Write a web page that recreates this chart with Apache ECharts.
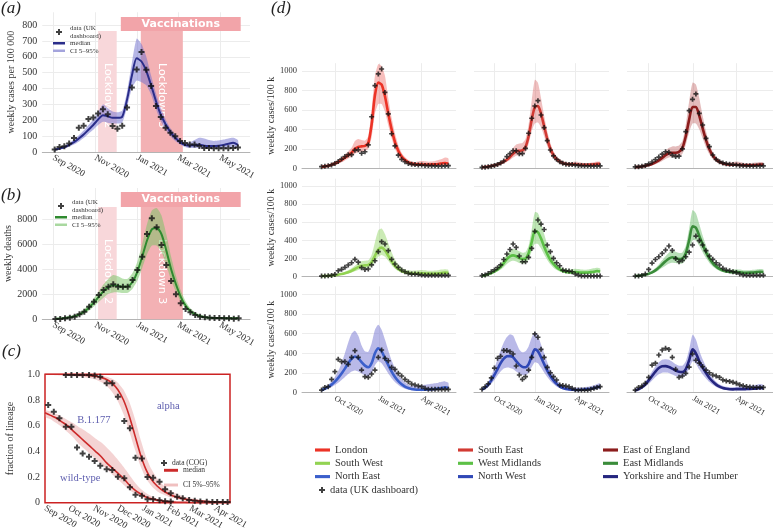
<!DOCTYPE html>
<html><head><meta charset="utf-8">
<script src="https://cdn.jsdelivr.net/npm/echarts@6/dist/echarts.min.js"></script>
<style>html,body{margin:0;padding:0;background:#fff}#c{width:773px;height:531px}</style>
</head><body><div id="c"></div><script>
const SERIF = 'Liberation Serif';
const PLUS = 'path://M-1,-3H1V-1H3V1H1V3H-1V1H-3V-1H-1Z';
const LINE = 'path://M0,0H12V2.5H0Z';

// ---------- x positions: days since 1 Sep 2020 ----------
const weekDays = [2,9,16,23,30,37,44,51,58,65,72,79,86,93,100,107,114,121,128,135,142,149,156,163,170,177,184,191,198,205,212,219,226,233,240,247,254,261,268];
const deathDays = [3,10,17,24,31,38,45,52,59,66,73,80,87,94,101,108,115,122,129,136,143,150,157,164,171,178,185,192,199,206,213,220,227,234,241,248,255,262,269];
const tickDaysAB = [0,61,122,181,242];
const tickLabelsAB = ['Sep 2020','Nov 2020','Jan 2021','Mar 2021','May 2021'];
const tickDaysC = [0,30,61,91,122,153,181,212];
const tickLabelsC = ['Sep 2020','Oct 2020','Nov 2020','Dec 2020','Jan 2021','Feb 2021','Mar 2021','Apr 2021'];
const tickDaysD = [30,122,212];
const tickLabelsD = ['Oct 2020','Jan 2021','Apr 2021'];
const lockdown2 = [65, 92];
const lockdown3 = [127, 188];
const vaccinations = [98, 272];

// ---------- (a) weekly cases per 100 000 ----------
const aData = [15,32,36,53,88,152,166,208,217,242,270,238,164,147,166,280,406,520,630,518,415,290,221,152,122,99,69,57,48,48,38,25,25,23,23,23,23,25,29];
const aMed  = [15,22,30,45,62,85,110,140,170,205,232,225,215,215,222,330,480,590,570,510,420,320,235,175,125,90,62,45,40,42,45,40,38,38,40,45,52,58,45];
const aHi   = [20,30,40,55,78,105,135,170,205,250,300,275,255,250,260,380,560,715,680,600,480,370,275,205,150,110,78,60,60,75,90,85,75,70,72,78,85,90,75];
const aLo   = [10,15,22,35,48,65,88,115,140,170,190,185,180,180,185,280,400,450,440,420,360,270,195,140,100,70,48,32,25,25,25,22,22,22,22,25,28,30,25];

// ---------- (b) weekly deaths ----------
const bData = [30,30,80,130,210,400,610,1010,1410,1950,2350,2610,2800,2610,2610,2610,3150,3950,5010,6830,8080,7360,5950,4350,3070,2000,1280,830,560,350,210,160,130,110,110,80,80,50,80];
const bMed  = [40,60,100,160,250,400,620,950,1350,1800,2250,2600,2720,2680,2600,2620,3000,3800,5000,6300,7200,7300,6800,5500,4000,2800,1800,1100,650,400,250,170,130,110,100,95,90,90,90];
const bHi   = [60,90,140,220,340,540,820,1220,1700,2250,2800,3250,3550,3450,3250,3250,3700,4600,6000,7600,8700,8900,8300,6800,5000,3500,2300,1450,880,560,360,250,190,160,150,145,140,140,140];
const bLo   = [25,40,70,110,170,280,440,700,1020,1400,1750,2050,2150,2150,2100,2120,2450,3100,4100,5200,5900,5900,5400,4350,3150,2200,1400,850,480,290,170,110,80,65,60,55,52,50,50];

// ---------- (c) fraction of lineage ----------
const cCurveDays = [0,7,14,21,28,35,42,49,56,63,70,77,84,91,98,105,112,119,126,133,140,147,154,161,168,175,182,189,196,203,210,217,224,231];
const alphaMed = [1,1,1,1,0.998,0.997,0.995,0.993,0.99,0.985,0.975,0.96,0.93,0.88,0.8,0.68,0.53,0.38,0.26,0.18,0.13,0.095,0.07,0.05,0.037,0.028,0.021,0.016,0.012,0.009,0.007,0.005,0.004,0.003];
const alphaHi  = [1,1,1,1,1,1,0.999,0.998,0.997,0.995,0.99,0.98,0.965,0.935,0.88,0.79,0.66,0.5,0.36,0.26,0.19,0.14,0.105,0.08,0.06,0.045,0.035,0.027,0.02,0.016,0.012,0.009,0.007,0.006];
const alphaLo  = [0.995,0.995,0.993,0.99,0.988,0.985,0.98,0.975,0.97,0.96,0.94,0.91,0.86,0.79,0.69,0.56,0.42,0.29,0.19,0.13,0.09,0.065,0.047,0.034,0.024,0.017,0.012,0.009,0.006,0.004,0.003,0.002,0.001,0.001];
const wildMed  = [0.70,0.68,0.66,0.63,0.60,0.56,0.52,0.48,0.44,0.40,0.36,0.31,0.27,0.23,0.19,0.14,0.10,0.07,0.045,0.03,0.02,0.013,0.009,0.006,0.004,0.003,0.002,0.002,0.001,0.001,0.001,0.001,0.001,0.001];
const wildHi   = [0.72,0.71,0.69,0.67,0.645,0.62,0.59,0.565,0.535,0.50,0.47,0.43,0.385,0.335,0.28,0.22,0.16,0.11,0.075,0.05,0.03,0.02,0.014,0.01,0.007,0.005,0.004,0.003,0.003,0.002,0.002,0.002,0.002,0.002];
const wildLo   = [0.67,0.65,0.62,0.59,0.55,0.51,0.46,0.42,0.38,0.34,0.30,0.26,0.22,0.18,0.14,0.10,0.07,0.045,0.03,0.02,0.012,0.008,0.005,0.003,0.002,0.001,0,0,0,0,0,0,0,0];
const wildDays  = [4,11,18,26,33,40,47,55,62,69,77,84,91,99,106,113,121,128,135,143,150,157];
const wildData  = [0.761,0.709,0.657,0.592,0.592,0.43,0.384,0.358,0.325,0.288,0.26,0.255,0.203,0.19,0.12,0.062,0.055,0.026,0.026,0.02,0.012,0.01];
const alphaDays = [26,33,40,47,55,62,69,77,84,91,99,106,113,121,128,135,143,150,157,165,172,180,187,194,202,209,215,222,228];
const alphaData = [0.995,0.995,0.995,0.995,0.995,0.99,0.98,0.93,0.93,0.826,0.636,0.58,0.35,0.345,0.20,0.195,0.164,0.104,0.073,0.047,0.034,0.021,0.016,0.01,0.008,0.005,0.005,0.005,0.005];
const lineageLabels = [{name:'alpha', day:154, frac:0.753},{name:'B.1.177', day:61, frac:0.644},{name:'wild-type', day:44, frac:0.192}];

// ---------- (d) regional weekly cases / 100k ----------
const londonData = [17,20,25,35,50,70,95,120,140,140,185,190,155,170,240,530,850,970,1020,780,560,355,230,135,92,68,50,41,38,35,33,30,28,27,25,24,24,25,27];
const londonMed  = [15,20,27,37,50,65,85,110,135,160,200,220,225,230,260,450,750,880,860,740,560,400,270,180,120,85,60,48,42,40,40,38,38,40,42,45,50,55,50];
const londonHi   = [20,27,35,48,65,85,110,140,175,210,280,300,290,285,330,600,950,1070,1050,950,720,520,360,240,160,115,85,70,65,70,75,72,68,70,75,85,95,110,100];
const londonLo   = [10,14,19,27,37,48,62,80,100,120,150,165,170,175,200,320,560,660,660,580,440,310,200,130,85,58,40,30,26,24,24,22,22,22,23,25,28,30,28];

const southEastData = [10,12,15,22,30,40,55,75,120,150,180,180,150,150,205,360,514,640,695,548,418,284,188,127,92,68,51,42,40,38,35,30,28,26,25,24,24,24,25];
const southEastMed  = [10,13,17,23,30,40,52,68,88,115,150,175,180,185,220,330,500,630,640,560,430,300,200,135,95,70,52,45,42,42,42,38,35,35,36,38,40,45,45];
const southEastHi   = [14,18,23,30,40,53,70,90,120,160,210,245,255,260,300,450,700,910,880,720,540,380,260,175,125,95,75,65,62,65,70,65,58,55,55,58,62,70,68];
const southEastLo   = [7,9,12,17,22,29,38,50,65,85,110,130,135,140,165,250,380,460,470,420,330,230,150,100,70,50,38,32,30,28,28,25,23,23,24,25,27,30,30];

const eastEnglandData = [15,17,20,28,45,65,90,115,145,170,165,135,120,125,200,377,592,709,764,565,445,308,223,137,92,68,55,48,42,38,35,30,28,26,25,24,24,24,25];
const eastEnglandMed  = [12,15,19,25,33,45,60,80,105,135,155,160,160,170,210,330,500,630,630,540,410,290,195,130,90,65,50,42,38,36,36,34,32,30,30,32,34,38,38];
const eastEnglandHi   = [16,20,25,33,44,60,80,105,140,180,210,225,225,235,280,450,690,880,860,720,540,380,255,170,118,88,70,62,60,65,70,65,58,55,55,58,60,65,62];
const eastEnglandLo   = [8,10,13,17,23,31,42,56,74,95,110,115,115,122,150,240,370,460,460,400,305,215,145,95,65,47,36,30,27,25,25,23,22,21,21,22,23,25,25];

const southWestData = [7,8,10,14,25,66,81,103,129,154,191,160,100,80,85,130,176,276,386,360,287,191,140,103,74,55,37,29,29,26,18,15,15,15,15,15,15,15,15];
const southWestMed  = [6,8,10,13,17,22,29,38,50,65,85,105,120,125,130,160,230,300,320,290,230,170,120,85,62,48,40,36,35,36,38,36,34,33,34,36,40,45,42];
const southWestHi   = [9,11,14,18,24,31,41,54,70,92,120,150,170,175,180,240,380,510,530,470,370,270,190,135,100,80,70,66,68,72,75,70,65,65,68,72,78,82,75];
const southWestLo   = [4,5,7,9,12,16,21,27,35,46,60,75,85,90,95,115,165,220,240,220,175,125,88,62,45,34,28,24,22,22,23,22,20,20,20,22,24,26,25];

const westMidlandsData = [12,20,35,55,75,100,130,190,250,300,360,323,228,165,165,213,312,500,625,580,520,349,276,202,154,121,73,65,62,55,30,18,8,8,8,8,8,8,8];
const westMidlandsMed  = [10,17,27,40,58,80,110,150,195,225,235,225,205,195,200,260,380,500,490,420,330,250,185,140,105,80,62,52,48,48,50,48,45,45,47,50,55,62,58];
const westMidlandsHi   = [14,23,36,53,77,105,145,195,250,290,305,300,280,265,270,340,520,710,700,600,470,355,265,200,150,115,92,80,78,82,88,84,78,76,80,86,92,100,92];
const westMidlandsLo   = [7,12,19,28,41,57,78,105,140,165,175,168,150,145,150,190,280,360,360,310,245,185,138,100,75,57,44,37,34,33,34,32,30,30,31,33,36,40,38];

const eastMidlandsData = [7,9,14,30,80,150,190,220,257,294,338,290,200,165,180,220,270,349,448,397,349,287,228,191,154,129,92,74,66,55,45,30,20,15,15,15,15,15,15];
const eastMidlandsMed  = [8,11,15,22,32,48,70,100,135,170,200,215,205,195,200,260,400,555,540,450,355,270,200,150,112,85,68,58,52,50,50,48,45,44,45,47,50,55,52];
const eastMidlandsHi   = [11,15,21,30,44,65,95,135,180,225,265,285,275,262,268,340,530,735,700,580,455,345,255,190,142,108,88,78,75,78,82,78,72,70,72,76,80,85,80];
const eastMidlandsLo   = [5,8,11,16,23,34,50,72,98,122,145,155,150,142,145,190,290,400,400,340,270,205,152,113,85,64,51,43,38,36,36,34,32,31,32,33,35,38,36];

const northEastData = [27,54,61,136,214,339,315,315,288,359,427,359,230,163,156,190,230,359,434,349,325,258,237,197,170,136,112,88,78,68,61,44,34,34,34,34,34,34,34];
const northEastMed  = [25,40,58,82,112,150,195,245,300,345,368,350,310,275,258,300,400,450,420,350,280,215,160,118,85,62,47,38,32,30,30,30,32,35,38,42,48,55,48];
const northEastHi   = [35,55,80,115,160,220,300,400,510,600,630,580,480,420,415,500,640,690,640,540,430,330,250,185,140,105,82,70,65,68,75,80,85,90,95,102,110,115,100];
const northEastLo   = [17,28,40,57,78,102,130,160,190,215,225,215,195,175,168,200,280,320,300,250,195,148,108,78,55,40,30,23,20,18,18,18,19,20,22,24,27,30,27];

const northWestData = [35,60,90,150,250,350,370,430,428,417,393,271,180,136,163,230,359,597,563,441,359,258,203,163,129,78,72,68,60,44,30,27,27,27,27,35,44,54,61];
const northWestMed  = [30,50,80,125,180,240,300,345,370,372,360,320,285,262,258,290,370,440,420,360,290,225,170,125,90,65,48,38,32,30,28,28,30,33,36,40,46,55,62];
const northWestHi   = [40,68,110,170,250,340,430,510,565,595,580,510,440,410,420,470,560,620,580,490,400,310,235,175,130,97,75,62,55,52,50,50,52,56,60,66,75,88,95];
const northWestLo   = [22,36,58,90,130,175,215,245,255,250,240,215,195,180,178,200,260,310,300,255,205,160,120,88,63,46,34,27,23,21,20,20,21,23,25,28,32,38,42];

const yorkshireData = [27,54,68,95,156,281,300,383,434,451,440,359,237,156,170,197,260,393,330,300,265,230,203,180,170,155,130,120,115,105,95,80,70,62,58,55,54,54,54];
const yorkshireMed  = [22,35,55,85,125,170,215,250,268,270,262,245,225,212,210,240,330,440,400,320,255,200,150,112,82,62,48,40,35,34,36,36,36,37,38,40,44,50,46];
const yorkshireHi   = [30,47,72,110,160,215,270,310,335,340,335,315,290,275,275,320,440,590,540,430,340,265,200,150,112,85,68,60,56,56,60,62,64,66,70,75,80,88,80];
const yorkshireLo   = [15,24,38,60,90,125,160,188,203,205,200,185,170,160,158,180,245,320,295,235,185,145,108,80,58,43,33,27,24,23,24,24,24,25,26,27,29,33,30];

const regionNames  = ['London','South East','East of England','South West','West Midlands','East Midlands','North East','North West','Yorkshire and The Humber'];
const regionColors = ['#ec3326','#d23a33','#8c1c1c','#92d352','#5cc046','#3a8c3a','#3b5fcb','#3048b6','#25267f'];
const regionBands  = ['rgba(235,85,80,0.38)','rgba(215,90,90,0.38)','rgba(185,80,80,0.38)','rgba(140,210,90,0.45)','rgba(110,200,90,0.45)','rgba(95,185,95,0.45)','rgba(115,115,210,0.5)','rgba(115,115,210,0.5)','rgba(115,115,210,0.5)'];
const regionSets = [
  [londonData, londonMed, londonLo, londonHi],
  [southEastData, southEastMed, southEastLo, southEastHi],
  [eastEnglandData, eastEnglandMed, eastEnglandLo, eastEnglandHi],
  [southWestData, southWestMed, southWestLo, southWestHi],
  [westMidlandsData, westMidlandsMed, westMidlandsLo, westMidlandsHi],
  [eastMidlandsData, eastMidlandsMed, eastMidlandsLo, eastMidlandsHi],
  [northEastData, northEastMed, northEastLo, northEastHi],
  [northWestData, northWestMed, northWestLo, northWestHi],
  [yorkshireData, yorkshireMed, yorkshireLo, yorkshireHi]
];
const yTicksA = [0,100,200,300,400,500,600,700,800];
const yTicksB = [0,2000,4000,6000,8000];
const yTicksD = [0,200,400,600,800,1000];

// ---------- layout ----------
const dCols = [{left:302,width:154,min:-39,max:284},{left:474,width:135,min:-16,max:288},{left:627,width:146,min:-15,max:288}];
const dRows = [{top:63.2,height:105.1},{top:178.7,height:98},{top:286.4,height:106.3}];

const LEG = {a_data:'data (UK\ndashboard)', a_med:'median', a_ci:'CI 5–95%',
             b_data:'data (UK\ndashboard)', b_med:'median', b_ci:'CI 5–95%',
             c_data:'data (COG)', c_med:'median', c_ci:'CI 5%–95%', d_data:'data (UK dashboard)'};

const grids = [], xAxes = [], yAxes = [], series = [];

function pairs(days, vals){ return days.map((d,i)=>[d, vals[i]]); }
function gridBox(left, top, width, height, extra){
  grids.push(Object.assign({left, top, width, height, outerBoundsMode:'none', containLabel:false}, extra||{}));
  return grids.length - 1;
}
function xAxisFor(g, min, max, ticks, labels, showLabels, fontSize, showLine, showSplit){
  xAxes.push({type:'value', gridIndex:g, min, max,
    axisLine:{show:showLine !== false, onZero:false, lineStyle:{color:'#b4b4b4', width:1}},
    axisTick:{show:false, customValues:ticks},
    axisLabel:{show:showLabels, customValues:ticks, formatter:v=>{const i=ticks.indexOf(v); return i<0?'':labels[i];},
      rotate:-30, fontFamily:SERIF, fontSize, color:'#333', margin:5},
    splitLine:{show:showSplit !== false, lineStyle:{color:'#ececec', width:1}}});
}
function yAxisFor(g, min, max, ticks, fmt, showLabels, name, nameGap, fontSize, split){
  yAxes.push({type:'value', gridIndex:g, min, max,
    axisLine:{show:false}, axisTick:{show:false, customValues:ticks},
    axisLabel:{show:showLabels, customValues:ticks, formatter:fmt, fontFamily:SERIF, fontSize, color:'#333', margin:5},
    splitLine:{show:split !== false, lineStyle:{color:'#ececec', width:1}},
    name, nameLocation:'middle', nameGap, nameTextStyle:{fontFamily:SERIF, fontSize:10, color:'#333'}});
}
// confidence band: one polygon through the library's coordinate conversion
function band(name, g, days, lo, hi, color, smooth){
  series.push({type:'custom', name, xAxisIndex:g, yAxisIndex:g, silent:true, z:2, itemStyle:{color},
    data:days.map((d,i)=>[d, lo[i], hi[i]]), encode:{x:0, y:[1,2]},
    renderItem:(params, api)=>{
      if (params.dataIndex !== 0) return null;
      const up = days.map((d,i)=>api.coord([d, hi[i]]));
      const dn = days.map((d,i)=>api.coord([d, lo[i]])).reverse();
      return {type:'polygon', shape:{points:up.concat(dn), smooth}, style:{fill:color}};
    }});
}
function median(name, g, days, vals, color, width, smooth, extra){
  series.push(Object.assign({type:'line', name, xAxisIndex:g, yAxisIndex:g, smooth, symbol:'none', silent:true,
    lineStyle:{color, width}, itemStyle:{color}, data:pairs(days, vals), z:3}, extra||{}));
}
function dots(name, g, days, vals, size){
  series.push({type:'scatter', name, xAxisIndex:g, yAxisIndex:g, symbol:PLUS, symbolSize:size, silent:true,
    itemStyle:{color:'#111'}, data:pairs(days, vals), z:4});
}
function eventAreas(vLo, vHi, topL){
  const lockLabel = txt => ({show:true, position:'insideTop', distance:32, rotate:-90, align:'left', verticalAlign:'middle',
    color:'#fff', fontFamily:'DejaVu Sans', fontSize:11, formatter:txt});
  return {silent:true, z:1, data:[
    [{xAxis:lockdown2[0], yAxis:0, itemStyle:{color:'#f8d7da'}, label:lockLabel('Lockdown 2')},{xAxis:lockdown2[1], yAxis:topL}],
    [{xAxis:lockdown3[0], yAxis:0, itemStyle:{color:'#f3b1b4'}, label:lockLabel('Lockdown 3')},{xAxis:lockdown3[1], yAxis:topL}],
    [{xAxis:vaccinations[0], yAxis:vLo, itemStyle:{color:'#f2a4a9'},
      label:{show:true, position:'inside', formatter:'Vaccinations', color:'#fff', fontFamily:'DejaVu Sans', fontWeight:'bold', fontSize:11}},
     {xAxis:vaccinations[1], yAxis:vHi}]
  ]};
}

// (a)
const gA = gridBox(42.3, 12.3, 207.7, 139.7);
xAxisFor(gA, -16, 285.5, tickDaysAB, tickLabelsAB, true, 9.5);
yAxisFor(gA, 0, 880, yTicksA, v=>String(v), true, 'weekly cases per 100 000', 25.5, 10);
band('a_ci', gA, weekDays, aLo, aHi, 'rgba(110,110,205,0.5)', 0.2);
median('a_med', gA, weekDays, aMed, '#2a2d8a', 2, 0.25, {markArea:eventAreas(762, 850, 762)});
dots('a_data', gA, weekDays, aData, 6);

// (b)
const gB = gridBox(42.3, 188, 207.7, 131.3);
xAxisFor(gB, -16, 285.5, tickDaysAB, tickLabelsAB, true, 9.5);
yAxisFor(gB, 0, 10500, yTicksB, v=>String(v), true, 'weekly deaths', 25, 10);
band('b_ci', gB, deathDays, bLo, bHi, 'rgba(115,195,95,0.5)', 0.2);
median('b_med', gB, deathDays, bMed, '#2f8a2f', 2, 0.25, {markArea:eventAreas(8984, 10184, 8984)});
dots('b_data', gB, deathDays, bData, 6);

// (c)
const gC = gridBox(45, 374.3, 185, 128.4, {show:true, borderColor:'#cc2222', borderWidth:1.5, backgroundColor:'transparent'});
xAxisFor(gC, 0, 231, tickDaysC, tickLabelsC, true, 9.5, false, false);
yAxisFor(gC, 0, 1, [0,0.2,0.4,0.6,0.8,1], v=>v===0?'0':v.toFixed(1), true, 'fraction of lineage', 30, 10, false);
band('c_ci', gC, cCurveDays, alphaLo, alphaHi, 'rgba(225,140,140,0.38)', 0.2);
band('c_ci2', gC, cCurveDays, wildLo, wildHi, 'rgba(225,140,140,0.38)', 0.2);
median('c_med', gC, cCurveDays, alphaMed, '#cc2a2a', 1.6, 0.3);
median('c_med2', gC, cCurveDays, wildMed, '#cc2a2a', 1.6, 0.3);
dots('c_data', gC, alphaDays, alphaData, 6);
dots('c_data2', gC, wildDays, wildData, 6);
series.push({type:'scatter', name:'c_labels', xAxisIndex:gC, yAxisIndex:gC, symbolSize:0, silent:true, z:5,
  data:lineageLabels.map(o=>({name:o.name, value:[o.day, o.frac]})),
  label:{show:true, position:'inside', formatter:'{b}', color:'#35359a', fontFamily:SERIF, fontSize:10.5}});

// (d)
regionNames.forEach((nm, r)=>{
  const row = Math.floor(r/3), col = r%3;
  const C = dCols[col], R = dRows[row];
  const g = gridBox(C.left, R.top, C.width, R.height);
  xAxisFor(g, C.min, C.max, tickDaysD, tickLabelsD, row===2, 8.5);
  yAxisFor(g, 0, 1080, yTicksD, v=>String(v), col===0, col===0?'weekly cases/100 k':'', 22, 8.5);
  const [dat, med, lo, hi] = regionSets[r];
  band('d_ci_'+r, g, weekDays, lo, hi, regionBands[r], 0.2);
  median(nm, g, weekDays, med, regionColors[r], 2.6, 0.25);
  dots(r===0?'d_data':'d_data_'+r, g, weekDays, dat, 5);
});

const legTxt = {fontFamily:SERIF, color:'#333'};
const legends = [
  {left:53, top:24.5, orient:'vertical', itemGap:0, itemWidth:12, itemHeight:6,
   textStyle:Object.assign({fontSize:7, lineHeight:7.5}, legTxt),
   data:[{name:'a_data', icon:PLUS, itemStyle:{color:'#111'}},{name:'a_med', icon:LINE, itemStyle:{color:'#2a2d8a'}},{name:'a_ci', icon:LINE, itemStyle:{color:'#a4a4dc'}}]},
  {left:55, top:198.5, orient:'vertical', itemGap:0, itemWidth:12, itemHeight:6,
   textStyle:Object.assign({fontSize:7, lineHeight:7.5}, legTxt),
   data:[{name:'b_data', icon:PLUS, itemStyle:{color:'#111'}},{name:'b_med', icon:LINE, itemStyle:{color:'#2f8a2f'}},{name:'b_ci', icon:LINE, itemStyle:{color:'#a9d8a0'}}]},
  {left:161, top:459, itemWidth:6, itemHeight:6, textStyle:Object.assign({fontSize:7.5, lineHeight:7.5}, legTxt),
   data:[{name:'c_data', icon:PLUS, itemStyle:{color:'#111'}}]},
  {left:164, top:466.3, itemWidth:14, itemHeight:3, textStyle:Object.assign({fontSize:7.5, lineHeight:7.5}, legTxt),
   data:[{name:'c_med', icon:LINE, itemStyle:{color:'#cc2a2a'}}]},
  {left:164, top:481, itemWidth:14, itemHeight:3, textStyle:Object.assign({fontSize:7.5, lineHeight:7.5}, legTxt),
   data:[{name:'c_ci', icon:LINE, itemStyle:{color:'#f0c0c0'}}]},
  {left:319, top:484, itemWidth:6, itemHeight:6, textStyle:Object.assign({fontSize:10.5, lineHeight:12}, legTxt),
   data:[{name:'d_data', icon:PLUS, itemStyle:{color:'#111'}}]}
];
[0,1,2].forEach(col=>{
  legends.push({left:[315,458,603][col], top:444, orient:'vertical', itemGap:1.3, itemWidth:15, itemHeight:10,
    textStyle:Object.assign({fontSize:10.5, lineHeight:12}, legTxt),
    data:[col, col+3, col+6].map(i=>({name:regionNames[i], icon:LINE, itemStyle:{color:regionColors[i]}}))});
});
legends.forEach(l=>{ l.selectedMode = false; l.padding = 0; l.formatter = n => (LEG[n] !== undefined ? LEG[n] : n); });

const titleStyle = {fontFamily:SERIF, fontStyle:'italic', fontWeight:'normal', fontSize:17, color:'#222'};
const option = {
  animation:false,
  backgroundColor:'#fff',
  title:[
    {text:'(a)', left:1, top:0, padding:0, textStyle:titleStyle},
    {text:'(b)', left:1, top:187, padding:0, textStyle:titleStyle},
    {text:'(c)', left:2, top:343, padding:0, textStyle:titleStyle},
    {text:'(d)', left:271, top:0, padding:0, textStyle:titleStyle}
  ],
  grid:grids, xAxis:xAxes, yAxis:yAxes, legend:legends, series
};
const chart = echarts.init(document.getElementById('c'), null, {renderer:'canvas', width:773, height:531});
chart.setOption(option);
</script></body></html>
